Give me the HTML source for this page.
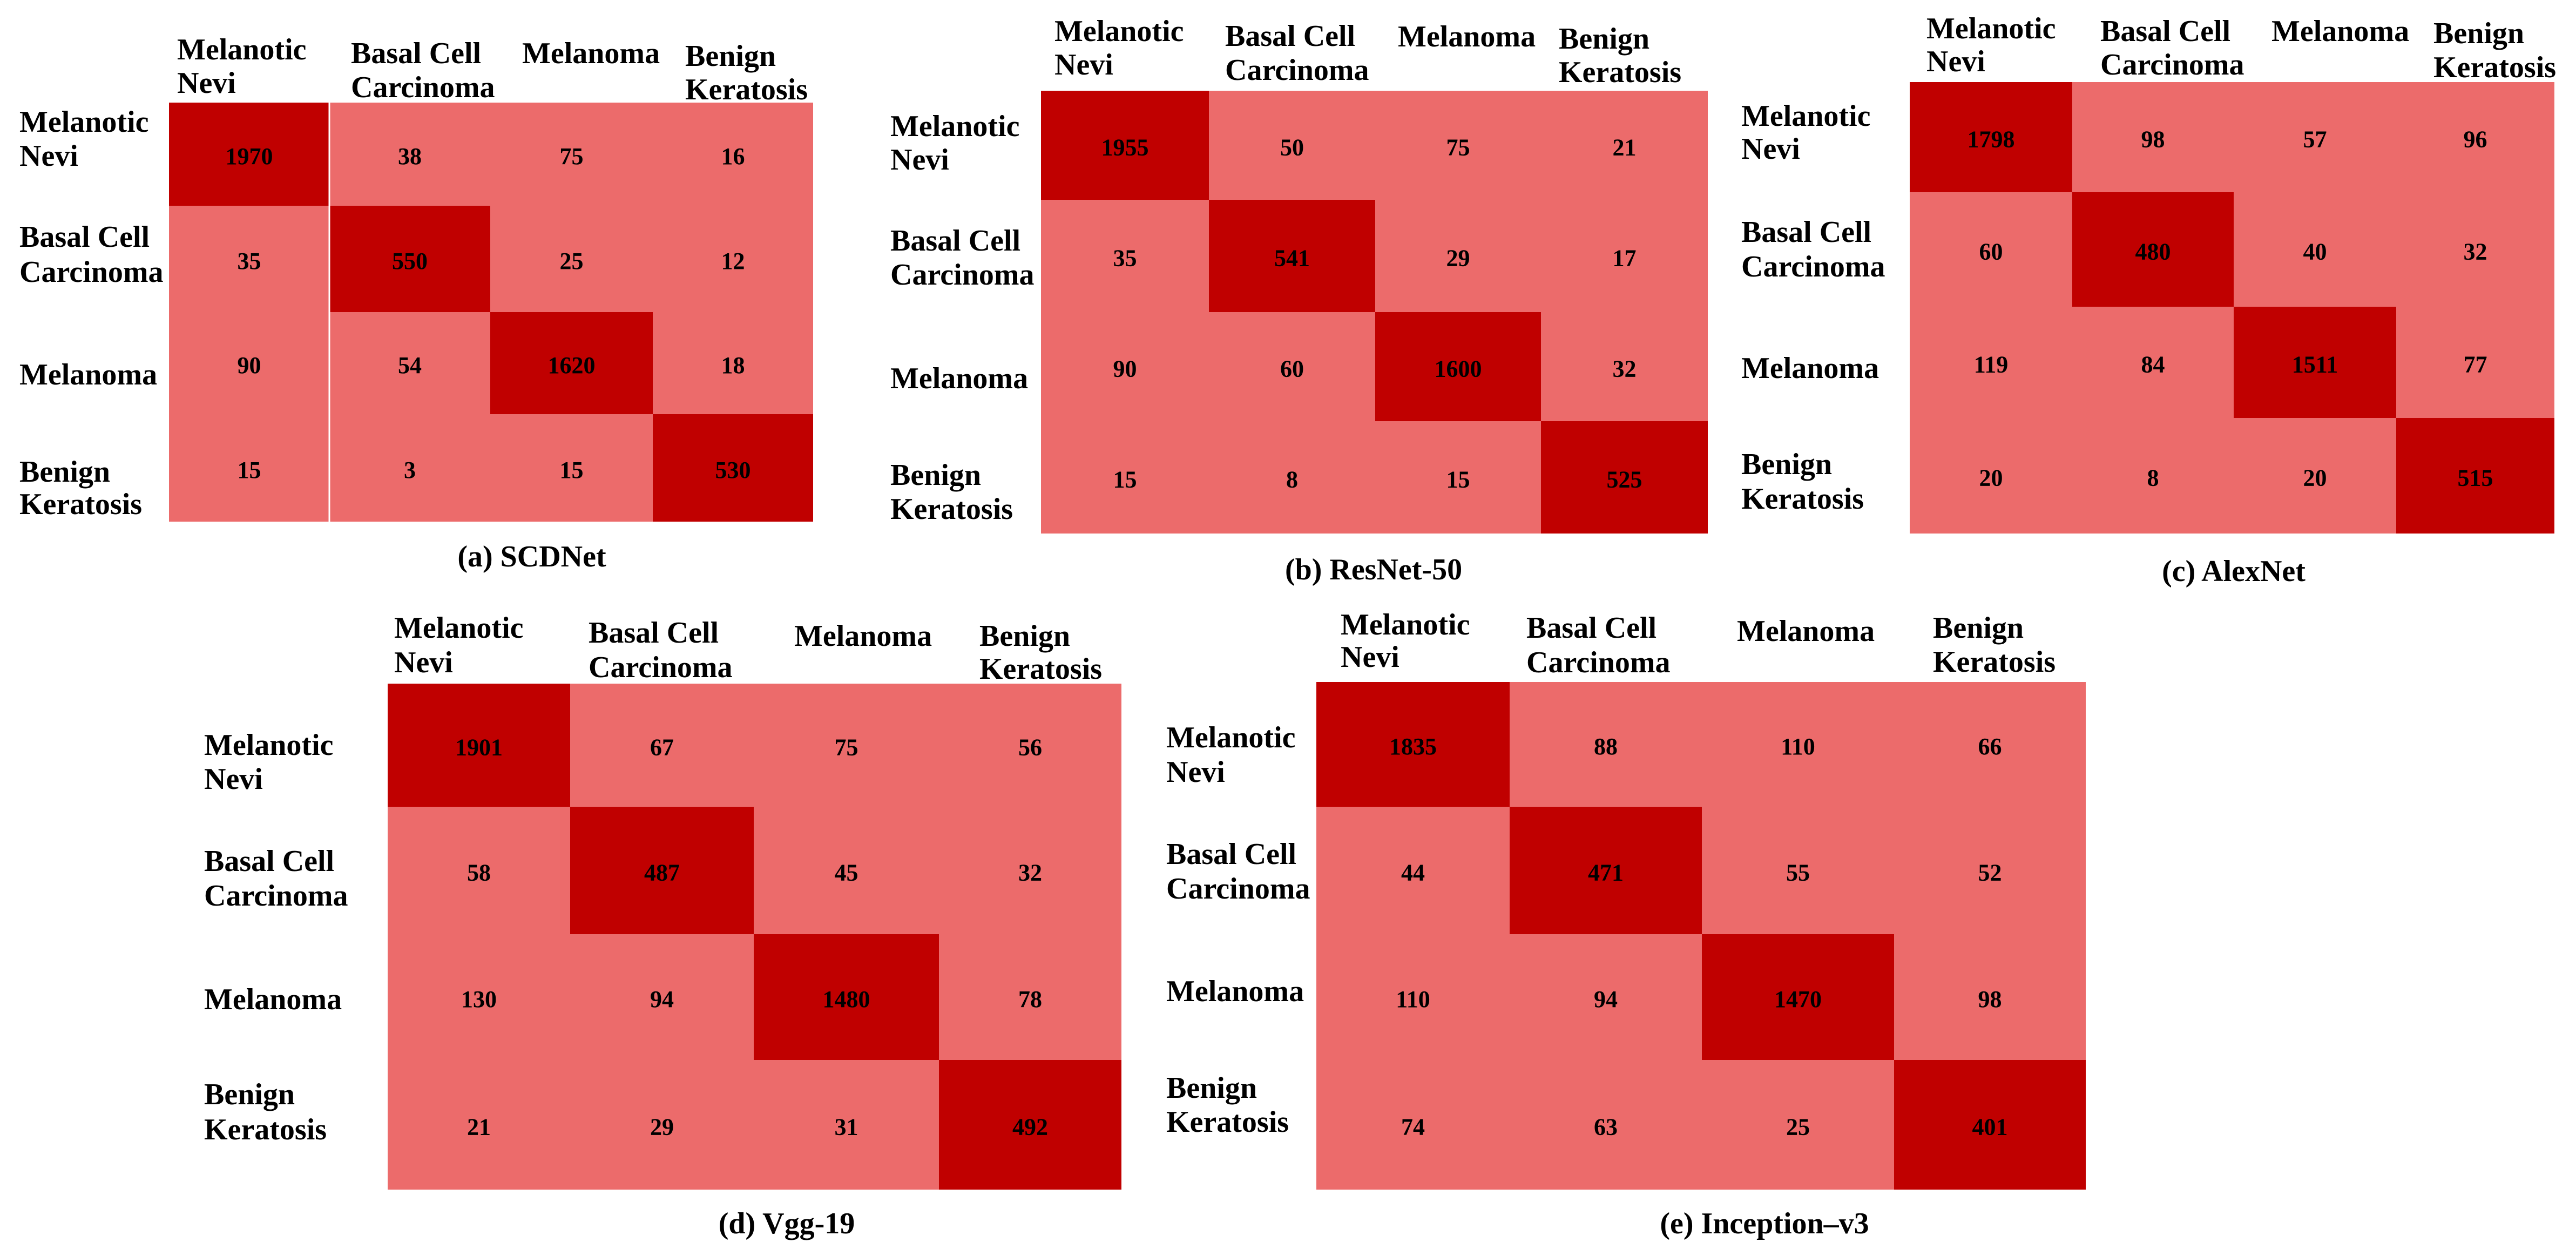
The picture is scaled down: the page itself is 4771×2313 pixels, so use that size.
<!DOCTYPE html>
<html><head><meta charset="utf-8">
<style>
html,body{margin:0;padding:0;background:#fff;}
svg{display:block;}
text{font-family:"Liberation Serif","Times New Roman",serif;font-weight:bold;fill:#000;}
.lab{font-size:56px;}
.num{font-size:44px;}
.ttl{font-size:56px;}
</style></head>
<body>
<svg id="fig" width="4771" height="2313" viewBox="0 0 4771 2313" xmlns="http://www.w3.org/2000/svg"></svg>
<script>
const classes = ["Melanotic Nevi","Basal Cell Carcinoma","Melanoma","Benign Keratosis"];
const titles = ["(a) SCDNet","(b) ResNet-50","(c) AlexNet","(d) Vgg-19","(e) Inception\u2013v3"];
const scdnet = [[1970,38,75,16],[35,550,25,12],[90,54,1620,18],[15,3,15,530]];
const resnet50 = [[1955,50,75,21],[35,541,29,17],[90,60,1600,32],[15,8,15,525]];
const alexnet = [[1798,98,57,96],[60,480,40,32],[119,84,1511,77],[20,8,20,515]];
const vgg19 = [[1901,67,75,56],[58,487,45,32],[130,94,1480,78],[21,29,31,492]];
const inceptionv3 = [[1835,88,110,66],[44,471,55,52],[110,94,1470,98],[74,63,25,401]];
const matrices = [scdnet,resnet50,alexnet,vgg19,inceptionv3];

// layout (pixel geometry)
const layouts = [
 {xs:[313,610,908,1209,1506], ys:[190,381,578,767,966], rlx:36,
  rl:[[226,289],[439,504],[694],[874,934]], clx:[328,650,967,1269],
  cl:[[92,154],[99,162],[99],[104,166]], t:[985,1031], sep:true},
 {xs:[1928,2239,2547,2854,3163], ys:[168,370,578,780,988], rlx:1649,
  rl:[[234,296],[446,509],[701],[880,943]], clx:[1953,2269,2589,2887],
  cl:[[58,120],[67,130],[68],[72,134]], t:[2544,1055]},
 {xs:[3537,3838,4137,4438,4731], ys:[152,356,568,774,988], rlx:3225,
  rl:[[215,276],[430,494],[682],[860,924]], clx:[3568,3890,4207,4507],
  cl:[[53,114],[58,120],[58],[62,125]], t:[4137,1058]},
 {xs:[718,1056,1396,1739,2077], ys:[1266,1494,1730,1963,2203], rlx:378,
  rl:[[1380,1443],[1595,1659],[1851],[2027,2092]], clx:[730,1090,1471,1814],
  cl:[[1163,1227],[1172,1236],[1178],[1178,1239]], t:[1457,2266]},
 {xs:[2438,2796,3152,3508,3863], ys:[1263,1494,1730,1963,2203], rlx:2160,
  rl:[[1366,1430],[1582,1646],[1836],[2015,2078]], clx:[2483,2827,3217,3580],
  cl:[[1157,1217],[1163,1227],[1169],[1163,1226]], t:[3268,2266]}
];
const lineSplit = [["Melanotic","Nevi"],["Basal Cell","Carcinoma"],["Melanoma"],["Benign","Keratosis"]];
const NS="http://www.w3.org/2000/svg";
const svg=document.getElementById('fig');
function mk(tag,attrs,parent){const e=document.createElementNS(NS,tag);for(const k in attrs)e.setAttribute(k,attrs[k]);parent.appendChild(e);return e;}
const keys=["scdnet","resnet-50","alexnet","vgg-19","inception-v3"];
matrices.forEach((m,p)=>{
  const L=layouts[p];
  const g=mk('g',{},svg);
  
  
  const xScale=i=>L.xs[i], yScale=i=>L.ys[i];
  for(let r=0;r<4;r++)for(let c=0;c<4;c++){
    const x0=xScale(c),x1=xScale(c+1),y0=yScale(r),y1=yScale(r+1);
    const rect=mk('rect',{x:x0,y:y0,width:x1-x0,height:y1-y0,fill:r===c?'#c00000':'#ec6b6b'},g);
    
    
    const t=mk('text',{x:(x0+x1)/2,y:(y0+y1)/2+4,'text-anchor':'middle','dominant-baseline':'central','class':'num'},g);
    t.textContent=m[r][c];
    
    
  }
  if(L.sep){const s=mk('line',{x1:L.xs[1],x2:L.xs[1],y1:L.ys[0],y2:L.ys[4],stroke:'#fff','stroke-width':3},g);
    
    }
  classes.forEach((cls,i)=>{
    const rl=mk('text',{x:L.rlx,'class':'lab','dominant-baseline':'central'},g);
    
    
    lineSplit[i].forEach((w,j)=>{const ts=mk('tspan',{x:L.rlx,y:L.rl[i][j]},rl);ts.textContent=w;});
    const cl=mk('text',{x:L.clx[i],'class':'lab','dominant-baseline':'central'},g);
    
    
    lineSplit[i].forEach((w,j)=>{const ts=mk('tspan',{x:L.clx[i],y:L.cl[i][j]},cl);ts.textContent=w;});
  });
  const tt=mk('text',{x:L.t[0],y:L.t[1],'text-anchor':'middle','dominant-baseline':'central','class':'ttl'},g);
  tt.textContent=titles[p];
  
  
});
</script>
</body></html>
